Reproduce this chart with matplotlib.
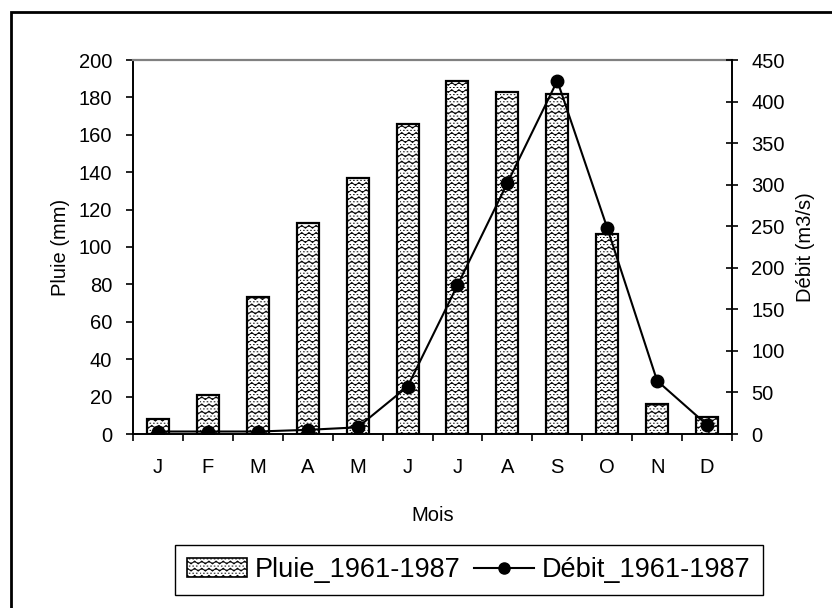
import warnings
import numpy as np
import matplotlib
matplotlib.use("Agg")
import matplotlib.pyplot as plt
import matplotlib.hatch as mhatch
from matplotlib.path import Path
from matplotlib.patches import Rectangle
from matplotlib.lines import Line2D

warnings.filterwarnings("ignore")

mois = ["J", "F", "M", "A", "M", "J", "J", "A", "S", "O", "N", "D"]
pluie = [8, 21, 73, 113, 137, 166, 189, 183, 182, 107, 16, 9]
debit = [3, 3, 3, 5, 8, 57, 179, 302, 425, 248, 64, 11]


# motif de hachures ondulées ("~") avec rangées de points
class WaveHatch(mhatch.HatchPatternBase):
    n_pts = 57
    n_dots = 28

    def __init__(self, hatch, density):
        self.num_rows = 7 * hatch.count("~")
        self.num_vertices = self.num_rows * (self.n_pts + 2 * self.n_dots)

    def set_vertices_and_codes(self, vertices, codes):
        rows, step = np.linspace(0.0, 1.0, self.num_rows, False, retstep=True)
        rows += step / 4.0
        x = np.linspace(0.0, 1.0, self.n_pts)
        wave = 0.2 * step * np.sin(2 * np.pi * 14 * x)
        xd = np.linspace(0.0, 1.0, self.n_dots, endpoint=False)
        c = 0
        for r in rows:
            vertices[c:c + self.n_pts, 0] = x
            vertices[c:c + self.n_pts, 1] = r + wave
            codes[c:c + self.n_pts] = Path.LINETO
            codes[c] = Path.MOVETO
            c += self.n_pts
            yd = r + step / 2.0
            vertices[c:c + 2 * self.n_dots:2, 0] = xd
            vertices[c + 1:c + 2 * self.n_dots:2, 0] = xd + 0.006
            vertices[c:c + 2 * self.n_dots, 1] = yd
            codes[c:c + 2 * self.n_dots:2] = Path.MOVETO
            codes[c + 1:c + 2 * self.n_dots:2] = Path.LINETO
            c += 2 * self.n_dots


mhatch._hatch_types.append(WaveHatch)

plt.rcParams["font.family"] = ["Liberation Sans", "DejaVu Sans"]
plt.rcParams["font.size"] = 14.5
plt.rcParams["hatch.linewidth"] = 0.7

fig = plt.figure(figsize=(8.32, 6.08), dpi=100)
ax1 = fig.add_axes([133 / 832, 1 - 434 / 608, 599 / 832, 374 / 608])

x = np.arange(len(mois))
ax1.bar(x, pluie, width=0.44, facecolor="white", edgecolor="black",
        linewidth=1.6, hatch="~~", zorder=2)

ax1.set_xlim(-0.5, len(mois) - 0.5)
ax1.set_ylim(0, 200)
ax1.set_yticks(np.arange(0, 201, 20))
ax1.set_xticks(x)
ax1.set_xticklabels(mois)
ax1.set_xticks(np.arange(-0.5, len(mois)), minor=True)
ax1.tick_params(axis="x", which="major", length=0, pad=17)
ax1.tick_params(axis="x", which="minor", length=5, width=1.2, direction="out")
ax1.tick_params(axis="y", length=5, width=1.2, direction="out", pad=10)
ax1.set_ylabel("Pluie (mm)", labelpad=6)
ax1.set_xlabel("Mois", labelpad=21)

ax1.spines["top"].set_color("#808080")
ax1.spines["top"].set_linewidth(1.6)
ax1.spines["right"].set_visible(False)
ax1.spines["left"].set_linewidth(1.4)
ax1.spines["bottom"].set_linewidth(1.4)

# Axe de droite - débit
ax2 = ax1.twinx()
ax2.plot(x, debit, color="black", linewidth=1.5, marker="o", markersize=9,
         zorder=3)
ax2.set_ylim(0, 450)
ax2.set_yticks(np.arange(0, 451, 50))
ax2.tick_params(axis="y", length=8, width=1.2, direction="inout", pad=10)
ax2.set_ylabel("Débit (m3/s)", labelpad=8)
for s in ["top", "left", "bottom"]:
    ax2.spines[s].set_visible(False)
ax2.spines["right"].set_linewidth(1.4)

# Légende
h_bar = Rectangle((0, 0), 1, 1, facecolor="white", edgecolor="black",
                  linewidth=1.2, hatch="~~")
h_line = Line2D([], [], color="black", linewidth=1.5, marker="o", markersize=8)
fig.legend([h_bar, h_line], ["Pluie_1961-1987", "Débit_1961-1987"],
           loc="center", bbox_to_anchor=(469 / 832, 1 - 570 / 608), ncol=2,
           fancybox=False, edgecolor="black", framealpha=1, handlelength=2.2,
           handletextpad=0.3, columnspacing=0.5, borderpad=0.45,
           fontsize=19.5)
fig.legends[0].get_frame().set_linewidth(1.0)

# Cadre extérieur
fig.patches.append(Rectangle((11 / 832, -0.05), 1.0, 1 - 12 / 608 + 0.05,
                             transform=fig.transFigure, fill=False,
                             edgecolor="black", linewidth=2.0))

fig.savefig("out.png", dpi=100)
